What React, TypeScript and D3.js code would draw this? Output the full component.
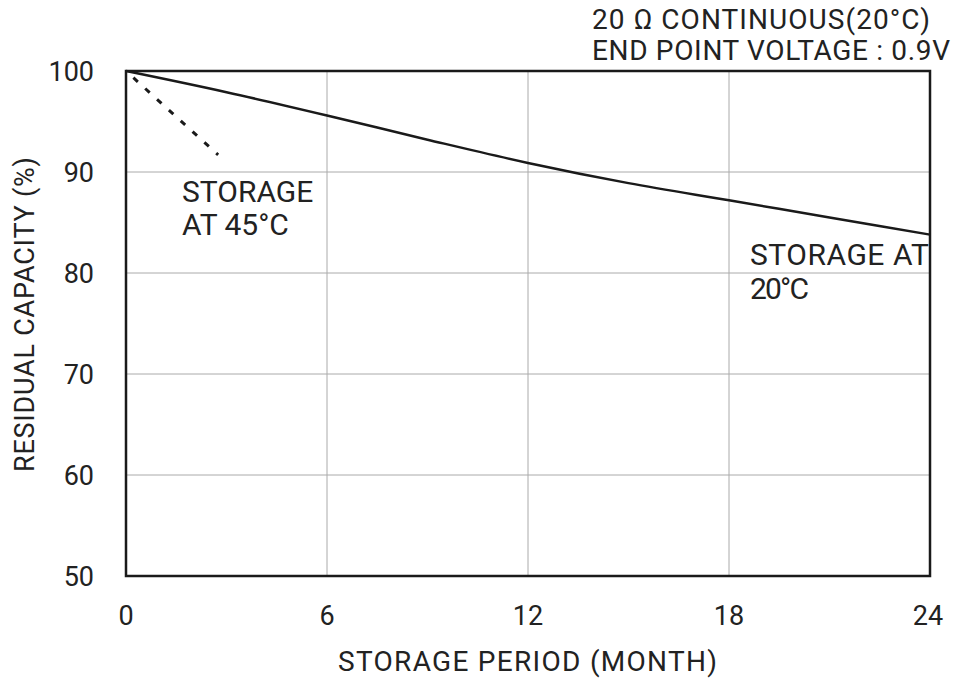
import React, { useEffect, useRef } from "react";
import * as d3 from "d3";

const months20 = [0, 3, 6, 9, 12, 15, 18, 21, 24];
const capacity20 = [100, 97.9, 95.6, 93.2, 90.9, 88.9, 87.2, 85.5, 83.8];
const months45 = [0, 2.75];
const capacity45 = [100, 91.7];
const xTicks = [0, 6, 12, 18, 24];
const yTicks = [50, 60, 70, 80, 90, 100];

const App = () => {
  const ref = useRef<SVGSVGElement>(null);

  useEffect(() => {
    const width = 964;
    const height = 681;
    const m = { left: 126, right: 34, top: 71, bottom: 105 };
    const svg = d3.select(ref.current);
    svg.selectAll("*").remove();

    const x = d3.scaleLinear().domain([0, 24]).range([m.left, width - m.right]);
    const y = d3.scaleLinear().domain([50, 100]).range([height - m.bottom, m.top]);
    const font = "Roboto, 'Liberation Sans', Arial, sans-serif";
    const ink = "#222";

    // grid
    svg.append("g")
      .selectAll("line")
      .data(xTicks.slice(1, -1))
      .enter()
      .append("line")
      .attr("x1", (d) => x(d))
      .attr("x2", (d) => x(d))
      .attr("y1", y(100))
      .attr("y2", y(50))
      .attr("stroke", "#aaa")
      .attr("stroke-width", 1);

    svg.append("g")
      .selectAll("line")
      .data(yTicks.slice(1, -1))
      .enter()
      .append("line")
      .attr("x1", x(0))
      .attr("x2", x(24))
      .attr("y1", (d) => y(d))
      .attr("y2", (d) => y(d))
      .attr("stroke", "#aaa")
      .attr("stroke-width", 1);

    // frame
    svg.append("rect")
      .attr("x", x(0))
      .attr("y", y(100))
      .attr("width", x(24) - x(0))
      .attr("height", y(50) - y(100))
      .attr("fill", "none")
      .attr("stroke", "#1a1a1a")
      .attr("stroke-width", 2.5);

    const line20 = d3
      .line<number>()
      .x((d) => x(d))
      .y((d, i) => y(capacity20[i]))
      .curve(d3.curveMonotoneX);

    svg.append("path")
      .attr("d", line20(months20))
      .attr("fill", "none")
      .attr("stroke", "#1a1a1a")
      .attr("stroke-width", 2.5);

    const line45 = d3.line<number>().x((d) => x(d)).y((d, i) => y(capacity45[i]));

    svg.append("path")
      .attr("d", line45(months45))
      .attr("fill", "none")
      .attr("stroke", "#1a1a1a")
      .attr("stroke-width", 3)
      .attr("stroke-dasharray", "6,10")
      .attr("stroke-dashoffset", -10);

    // tick labels
    svg.append("g")
      .selectAll("text")
      .data(yTicks)
      .enter()
      .append("text")
      .attr("x", 94)
      .attr("y", (d) => y(d) + 10)
      .attr("text-anchor", "end")
      .attr("font-family", font)
      .attr("font-size", 27)
      .attr("fill", ink)
      .text((d) => d);

    svg.append("g")
      .selectAll("text")
      .data(xTicks)
      .enter()
      .append("text")
      .attr("x", (d) => (d === 24 ? x(d) - 2 : x(d)))
      .attr("y", 625)
      .attr("text-anchor", "middle")
      .attr("font-family", font)
      .attr("font-size", 27)
      .attr("fill", ink)
      .text((d) => d);

    // axis titles
    svg.append("text")
      .attr("x", 338)
      .attr("y", 671)
      .attr("textLength", 379)
      .attr("lengthAdjust", "spacing")
      .attr("font-family", font)
      .attr("font-size", 28)
      .attr("fill", ink)
      .text("STORAGE PERIOD (MONTH)");

    svg.append("text")
      .attr("transform", `translate(34,472) rotate(-90)`)
      .attr("textLength", 315)
      .attr("lengthAdjust", "spacing")
      .attr("font-family", font)
      .attr("font-size", 27)
      .attr("fill", ink)
      .text("RESIDUAL CAPACITY (%)");

    const label = (lines: string[], lx: number, ly: number, gap: number, size: number, lens?: number[]) => {
      lines.forEach((t, i) => {
        const el = svg.append("text")
          .attr("x", lx)
          .attr("y", ly + i * gap)
          .attr("font-family", font)
          .attr("font-size", size)
          .attr("fill", ink)
          .text(t);
        if (lens) el.attr("textLength", lens[i]).attr("lengthAdjust", "spacing");
      });
    };

    label(["STORAGE", "AT 45°C"], 182, 202, 33, 30);
    label(["STORAGE AT", "20°C"], 750, 265, 34, 30, [179, 59]);
    label(["20 Ω  CONTINUOUS(20°C)", "END POINT VOLTAGE : 0.9V"], 592, 29, 31, 28, [338, 358]);
  }, []);

  return <svg ref={ref} width={964} height={681} style={{ display: "block", position: "absolute", left: 0, top: 0, background: "#fff" }} />;
};

export default App;
